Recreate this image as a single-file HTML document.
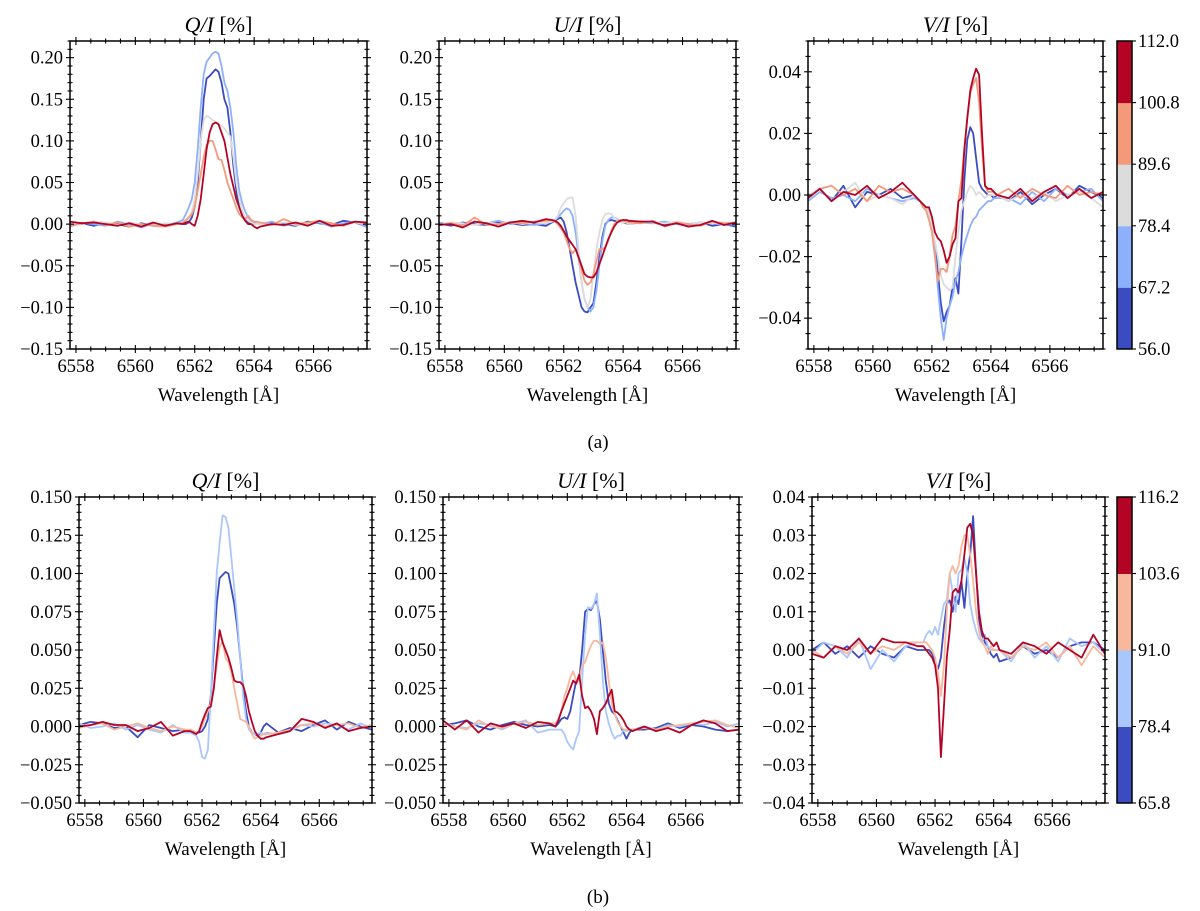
<!DOCTYPE html>
<html><head><meta charset="utf-8"><style>
html,body{margin:0;padding:0;background:#fff;}
svg{display:block;font-family:"Liberation Serif",serif;}
</style></head><body>
<svg id="fig" width="1200" height="911" viewBox="0 0 1200 911" xmlns="http://www.w3.org/2000/svg">
<text x="598" y="448" font-size="19" text-anchor="middle">(a)</text>
<text x="598" y="903" font-size="19" text-anchor="middle">(b)</text>
</svg>
<script>
const wl=[6557.8,6558.2,6558.6,6559.0,6559.4,6559.8,6560.2,6560.6,6561.0,6561.4,
6561.6,6561.7,6561.8,6561.9,6562.0,6562.1,6562.2,6562.3,6562.4,6562.5,6562.6,6562.7,6562.8,6562.9,6563.0,6563.1,6563.2,6563.3,6563.4,6563.5,6563.6,6563.7,6563.8,6563.9,6564.0,6564.1,6564.2,
6564.6,6565.0,6565.4,6565.8,6566.2,6566.6,6567.0,6567.4,6567.8];

const topColors=["#3b4cc0","#8db0fe","#dddcdc","#f49a7b","#b40426"];
const botColors=["#3b4cc0","#aac7fd","#f7b89c","#b40426"];
const topCbarTicks=["56.0","67.2","78.4","89.6","100.8","112.0"];
const botCbarTicks=["65.8","78.4","91.0","103.6","116.2"];

// Top row, Q/I
const tq_db=[0.002,0.001,-0.002,0.001,0.0,-0.003,0.001,-0.002,-0.001,0.001,
0,0,0.002,0.008,0.02,0.05,0.1,0.15,0.175,0.178,0.182,0.186,0.183,0.17,0.15,0.14,0.11,0.07,0.04,0.02,0.01,0.005,0.002,0,0,0,0,
0.001,0.0,-0.002,0.003,0.001,-0.001,0.004,0.002,-0.003];
const tq_lb=[-0.003,0.002,0.0,-0.002,0.003,0.0,-0.004,0.001,-0.002,0.002,
0.005,0.012,0.02,0.03,0.05,0.09,0.14,0.18,0.195,0.2,0.205,0.207,0.205,0.19,0.17,0.16,0.14,0.11,0.07,0.04,0.025,0.015,0.008,0.004,0.002,0,0,
0.003,-0.002,0.001,0.0,0.002,-0.003,0.001,0.003,-0.004];
const tq_gr=[0.001,0.0,0.003,0.002,-0.001,0.002,0.0,-0.002,0.001,0.0,
0,0.003,0.008,0.015,0.03,0.06,0.1,0.125,0.13,0.128,0.125,0.123,0.12,0.118,0.115,0.11,0.105,0.08,0.05,0.03,0.015,0.008,0.004,0.002,0,0,0,
0.0,0.002,-0.001,0.001,0.003,0.0,-0.001,0.002,0.0];
const tq_sa=[-0.002,0.001,0.003,-0.001,0.002,-0.003,0.0,-0.002,-0.003,0.0,
0.002,0.005,0.008,0.012,0.02,0.04,0.06,0.08,0.095,0.1,0.1,0.09,0.078,0.077,0.065,0.05,0.04,0.03,0.02,0.012,0.008,0.006,0.01,0.005,0.003,0.003,0.002,
-0.001,0.006,0.0,0.002,0.004,0.001,-0.002,0.003,0.001];
const tq_rd=[0.003,0.001,0.002,0.0,-0.002,0.001,-0.003,0.002,-0.002,0.001,
0,0.002,0.003,0,-0.002,0.01,0.03,0.06,0.09,0.11,0.12,0.122,0.12,0.11,0.1,0.08,0.06,0.045,0.03,0.02,0.01,0.004,0,0,-0.003,-0.005,-0.003,
0.0,-0.001,0.002,-0.002,0.004,-0.002,-0.001,0.003,0.002];

// Top row, U/I
const tu_db=[0.001,-0.002,0.002,0.0,-0.001,0.002,0.001,-0.001,0.0,-0.002,
0.002,0.004,0.006,0.008,0.003,-0.01,-0.03,-0.05,-0.07,-0.085,-0.1,-0.105,-0.106,-0.1,-0.095,-0.07,-0.04,-0.015,0,0.004,0.005,0.004,0.003,0.003,0.002,0.001,0,
0.003,0.002,-0.001,0.001,0.0,0.002,-0.002,0.0,-0.003];
const tu_lb=[0.002,0.0,-0.001,0.003,0.001,0.004,0.0,0.002,-0.001,0.001,
0.003,0.005,0.008,0.012,0.016,0.019,0.017,0.01,-0.01,-0.04,-0.07,-0.09,-0.1,-0.105,-0.1,-0.08,-0.05,-0.02,-0.002,0.005,0.008,0.008,0.006,0.004,0.003,0.002,0,
0.002,0.001,0.003,0.0,-0.002,0.002,0.001,-0.001,0.0];
const tu_gr=[0.0,0.002,0.001,-0.001,0.002,0.0,0.003,0.0,0.002,0.001,
0.003,0.005,0.01,0.02,0.025,0.03,0.032,0.032,0.01,-0.03,-0.07,-0.09,-0.1,-0.09,-0.06,-0.03,-0.01,0.005,0.012,0.013,0.012,0.008,0.005,0.003,0.002,0.002,0,
0.004,0.002,0.001,0.003,0.0,0.002,0.001,0.002,0.0];
const tu_sa=[-0.001,0.001,-0.002,0.008,-0.001,0.0,0.002,0.001,0.003,0.004,
0.005,0.003,0,-0.005,-0.01,-0.02,-0.03,-0.035,-0.03,-0.04,-0.055,-0.068,-0.073,-0.07,-0.06,-0.045,-0.03,-0.03,-0.028,-0.02,-0.008,0,0.003,0.005,0.004,0.003,0.002,
0.001,0.004,-0.003,0.002,0.0,-0.002,0.003,0.001,0.002];
const tu_rd=[-0.001,0.0,-0.004,0.003,0.001,-0.003,0.002,0.004,0.002,0.006,
0.005,0.004,0.002,-0.002,-0.008,-0.015,-0.02,-0.025,-0.03,-0.04,-0.05,-0.06,-0.063,-0.064,-0.064,-0.058,-0.048,-0.038,-0.028,-0.018,-0.01,-0.003,0.002,0.004,0.005,0.005,0.004,
0.003,0.003,-0.002,0.001,-0.003,-0.001,0.004,-0.001,0.002];

// Top row, V/I
const tv_db=[-0.001,0.002,-0.002,0.003,-0.004,0.001,0.0,0.002,-0.001,0.0,
-0.002,-0.003,-0.004,-0.006,-0.01,-0.016,-0.025,-0.035,-0.041,-0.038,-0.036,-0.03,-0.027,-0.032,-0.015,0.005,0.018,0.022,0.02,0.012,0.004,0.002,0.001,0,0,-0.001,0,
-0.002,0.001,-0.003,0.0,0.002,-0.001,0.003,0.001,-0.001];
const tv_lb=[-0.002,0.001,-0.001,0.0,-0.002,0.002,0.0,-0.001,-0.002,-0.001,
-0.002,-0.003,-0.004,-0.006,-0.01,-0.018,-0.03,-0.04,-0.047,-0.04,-0.036,-0.033,-0.028,-0.025,-0.02,-0.016,-0.013,-0.01,-0.008,-0.007,-0.005,-0.004,-0.003,-0.002,-0.002,-0.001,-0.001,
-0.001,-0.003,0.001,-0.002,0.002,0.0,0.001,0.002,-0.002];
const tv_gr=[0.0,0.002,-0.002,0.001,0.004,-0.002,0.0,-0.001,-0.003,0.0,
-0.002,-0.003,-0.004,-0.006,-0.01,-0.015,-0.02,-0.026,-0.029,-0.03,-0.031,-0.03,-0.02,-0.012,-0.005,-0.002,0.001,0.003,0.002,0,0.001,0,-0.001,0,0,0,0,
-0.002,0.0,-0.001,0.001,-0.002,0.0,0.001,-0.001,-0.004];
const tv_sa=[-0.001,0.002,0.003,0.0,0.002,-0.002,0.003,0.001,0.002,0.0,
-0.002,-0.004,-0.005,-0.008,-0.012,-0.02,-0.028,-0.024,-0.024,-0.025,-0.02,-0.013,-0.01,-0.002,0.005,0.015,0.025,0.033,0.036,0.038,0.03,0.015,0.003,0.001,0.001,0.001,0,
0.002,-0.001,0.002,0.0,-0.001,0.003,0.0,0.001,0.0];
const tv_rd=[-0.001,0.002,-0.002,0.001,0.0,0.003,-0.001,0.001,0.004,0.0,
-0.002,-0.003,-0.004,-0.004,-0.007,-0.012,-0.014,-0.015,-0.018,-0.022,-0.02,-0.016,-0.014,-0.002,-0.001,0.015,0.025,0.034,0.038,0.041,0.039,0.02,0.003,0.002,0.002,0.001,0,
-0.001,0.002,-0.002,0.001,0.003,-0.001,0.002,-0.001,0.001];

// Bottom row, Q/I
const bq_db=[0.001,0.003,0.002,-0.001,0.0,-0.007,0.001,-0.001,-0.003,-0.002,
-0.003,-0.003,-0.004,-0.004,-0.003,0.0,0.005,0.02,0.05,0.08,0.097,0.099,0.101,0.1,0.09,0.08,0.065,0.045,0.025,0.01,0.0,-0.004,-0.005,-0.006,-0.004,0.0,0.002,
-0.004,-0.001,-0.003,0.001,0.004,-0.002,0.003,0.0,-0.002];
const bq_lb=[0.002,-0.001,0.0,0.002,-0.002,0.001,-0.002,-0.004,0.001,-0.004,
-0.004,-0.005,-0.006,-0.01,-0.02,-0.021,-0.015,0.02,0.06,0.1,0.12,0.138,0.137,0.13,0.11,0.09,0.07,0.045,0.02,0.005,-0.002,-0.004,-0.005,-0.005,-0.004,-0.005,-0.004,
-0.005,-0.003,0.001,0.0,0.002,0.001,-0.002,0.002,-0.001];
const bq_sa=[-0.001,0.001,0.002,-0.002,0.0,0.002,-0.001,-0.003,0.0,-0.002,
-0.002,-0.003,-0.004,-0.003,0.0,0.005,0.01,0.015,0.025,0.04,0.052,0.056,0.045,0.042,0.035,0.025,0.015,0.005,0.004,0.003,0.0,-0.005,-0.008,-0.007,-0.006,-0.005,-0.005,
-0.004,-0.002,0.001,0.002,0.0,0.001,0.002,-0.001,0.001];
const bq_rd=[0.0,0.001,0.003,0.001,0.001,-0.003,-0.001,0.003,-0.006,-0.003,
-0.003,-0.004,-0.005,-0.003,0.003,0.008,0.012,0.013,0.025,0.045,0.063,0.055,0.05,0.045,0.038,0.03,0.029,0.029,0.027,0.02,0.01,0.003,-0.003,-0.006,-0.008,-0.008,-0.007,
-0.005,-0.003,0.005,0.003,-0.001,0.002,-0.003,-0.001,0.0];

// Bottom row, U/I
const bu_db=[0.001,0.002,0.004,0.0,-0.002,0.001,0.003,0.001,0.0,0.001,
0.0,0.002,0.005,0.006,0.005,0.01,0.02,0.03,0.03,0.05,0.075,0.077,0.076,0.08,0.082,0.07,0.05,0.03,0.015,0.01,0.008,0.004,0.0,-0.004,-0.008,-0.004,-0.002,
-0.002,-0.001,0.002,-0.001,0.001,0.0,-0.002,-0.003,-0.002];
const bu_lb=[0.003,0.0,-0.001,0.002,0.001,-0.002,0.002,0.004,-0.004,-0.002,
-0.002,-0.002,-0.002,-0.005,-0.01,-0.013,-0.015,-0.008,-0.003,0.03,0.06,0.078,0.077,0.08,0.087,0.06,0.03,0.01,0.002,-0.004,-0.008,-0.006,-0.006,-0.002,-0.003,-0.002,-0.002,
0.0,-0.002,0.001,0.0,0.002,0.001,0.003,0.0,0.002];
const bu_sa=[0.001,0.0,-0.002,0.004,0.0,-0.001,0.002,0.003,0.001,0.002,
0.002,0.005,0.01,0.02,0.025,0.032,0.036,0.03,0.03,0.04,0.042,0.048,0.053,0.056,0.056,0.054,0.055,0.045,0.03,0.015,0.008,0.003,0.0,-0.002,-0.002,-0.002,-0.002,
-0.001,-0.002,0.0,0.001,0.002,0.003,0.004,0.001,-0.001];
const bu_rd=[0.004,-0.002,0.004,-0.004,0.002,0.0,0.002,-0.001,0.003,0.002,
0.0,0.004,0.01,0.015,0.02,0.025,0.03,0.028,0.034,0.02,0.012,0.013,0.01,0.005,-0.005,0.01,0.012,0.015,0.02,0.024,0.01,0.009,0.007,0.004,0.0,-0.002,-0.003,
0.0,-0.003,-0.001,-0.004,0.001,0.004,0.002,-0.003,-0.002];

// Bottom row, V/I
const bv_db=[0.0,0.002,-0.001,0.001,-0.002,0.001,-0.001,-0.002,0.001,0.0,
0.0,0.0,0.0,-0.001,-0.003,-0.005,-0.002,0.006,0.012,0.013,0.01,0.014,0.012,0.018,0.011,0.02,0.025,0.035,0.02,0.008,0.004,0.002,0.001,-0.001,-0.002,-0.001,-0.003,
-0.002,0.001,-0.001,0.0,-0.002,0.001,0.002,0.002,0.0];
const bv_lb=[-0.001,0.002,0.001,-0.002,0.003,-0.005,0.0,-0.003,0.001,0.002,
0.002,0.004,0.005,0.004,0.006,0.004,0.008,0.012,0.013,0.02,0.015,0.01,0.02,0.021,0.024,0.02,0.012,0.008,0.005,0.003,0.002,0.004,0.001,0.0,0.0,0.0,0.0,
-0.003,0.002,-0.002,0.001,-0.003,0.003,0.001,0.002,-0.001];
const bv_sa=[0.0,-0.002,0.001,-0.001,0.002,-0.001,0.001,0.0,0.002,0.002,
0.002,0.002,0.001,0.0,-0.002,-0.006,-0.012,-0.004,0.01,0.02,0.022,0.02,0.022,0.027,0.03,0.03,0.025,0.018,0.01,0.005,0.002,0.001,-0.001,0.001,0.0,0.0,0.0,
-0.002,0.001,0.0,0.002,-0.002,0.001,-0.004,0.001,-0.002];
const bv_rd=[-0.001,-0.002,0.001,0.0,0.003,-0.001,0.003,0.002,0.002,0.001,
0.001,0.0,-0.001,-0.002,-0.004,-0.01,-0.028,-0.015,-0.002,0.005,0.015,0.016,0.015,0.018,0.025,0.032,0.033,0.03,0.02,0.01,0.005,0.003,0.003,0.002,0.001,0.002,0.0,
-0.001,0.002,0.001,-0.001,0.002,0.0,-0.002,0.004,-0.001];

const NS="http://www.w3.org/2000/svg";
const svg=document.getElementById('fig');
const XLO=6557.8, XHI=6567.8;
function el(tag,attrs,parent){const e=document.createElementNS(NS,tag);for(const k in attrs)e.setAttribute(k,attrs[k]);(parent||svg).appendChild(e);return e;}
function fmt(v,d){const s=Math.abs(v).toFixed(d);return (v<-1e-9?"\u2212":"")+s;}

function panel(name,x0,x1,y0,y1,ylo,yhi,ymaj,ymin,dec,title,letter,series,colors){
  const g=el('g',{});
  
  
  const sx=v=>x0+(v-XLO)/(XHI-XLO)*(x1-x0);
  const sy=v=>y1-(v-ylo)/(yhi-ylo)*(y1-y0);
  const cp='clip-'+name;
  const defs=el('defs',{},g);
  const c=el('clipPath',{id:cp},defs);
  el('rect',{x:x0,y:y0,width:x1-x0,height:y1-y0},c);
  const lg=el('g',{'clip-path':'url(#'+cp+')'},g);
  series.forEach((s,i)=>{
    const d=s.map((v,j)=>(j?'L':'M')+sx(wl[j]).toFixed(1)+' '+sy(v).toFixed(1)).join(' ');
    const p=el('path',{d:d,fill:'none',stroke:colors[i],'stroke-width':1.8,'stroke-linejoin':'round'},lg);
    
    
  });
  const frame=el('rect',{x:x0,y:y0,width:x1-x0,height:y1-y0,fill:'none',stroke:'#000','stroke-width':1.5},g);
  
  
  const tk=el('g',{stroke:'#000','stroke-width':1.1},g);
  for(let w=6558;w<=6567.6;w+=0.5){
    const maj=Math.abs(w/2-Math.round(w/2))<1e-6, L=maj?4:2.5, x=sx(w);
    el('line',{x1:x,x2:x,y1:y1-L,y2:y1+L},tk);
    el('line',{x1:x,x2:x,y1:y0-L,y2:y0+L},tk);
    if(maj){const t=el('text',{x:x,y:y1+23,'font-size':18.5,'text-anchor':'middle'},g);t.textContent=String(w);
      }
  }
  const nmin=Math.round((yhi-ylo)/ymin);
  for(let k=0;k<=nmin;k++){
    const v=ylo+k*ymin; if(v>yhi+1e-9)break;
    const r=v/ymaj, maj=Math.abs(r-Math.round(r))<1e-6, L=maj?4:2.5, y=sy(v);
    el('line',{x1:x0-L,x2:x0+L,y1:y,y2:y},tk);
    el('line',{x1:x1-L,x2:x1+L,y1:y,y2:y},tk);
    if(maj){const t=el('text',{x:x0-7,y:y+6,'font-size':18.5,'text-anchor':'end'},g);t.textContent=fmt(v,dec);
      }
  }
  const tt=el('text',{x:(x0+x1)/2,y:y0-9,'font-size':22,'text-anchor':'middle'},g);
  
  const a=el('tspan',{'font-style':'italic'},tt);a.textContent=letter+'/I';
  const b=el('tspan',{},tt);b.textContent=' [%]';
  const xl=el('text',{x:(x0+x1)/2,y:y1+52,'font-size':19,'text-anchor':'middle'},g);
  xl.textContent='Wavelength [Å]';
  
}

function cbar(name,x0,x1,y0,y1,colors,labels){
  const g=el('g',{});
  
  
  const n=colors.length,h=(y1-y0)/n;
  colors.forEach((c,i)=>{const r=el('rect',{x:x0,y:y1-(i+1)*h,width:x1-x0,height:h+0.5,fill:c},g);
    });
  el('rect',{x:x0,y:y0,width:x1-x0,height:y1-y0,fill:'none',stroke:'#000','stroke-width':1.5},g);
  labels.forEach((l,i)=>{const y=y1-i*h;
    el('line',{x1:x1,x2:x1+4,y1:y,y2:y,stroke:'#000','stroke-width':1.1},g);
    const t=el('text',{x:x1+6,y:y+6,'font-size':18.5},g);t.textContent=l;
    });
}

panel('top-q-panel',70,367,41,349,-0.15,0.22,0.05,0.01,2,'','Q',[tq_db,tq_lb,tq_gr,tq_sa,tq_rd],topColors);
panel('top-u-panel',439,736,41,349,-0.15,0.22,0.05,0.01,2,'','U',[tu_db,tu_lb,tu_gr,tu_sa,tu_rd],topColors);
panel('top-v-panel',808,1103,41,349,-0.05,0.05,0.02,0.005,2,'','V',[tv_db,tv_lb,tv_gr,tv_sa,tv_rd],topColors);
cbar('top-colorbar',1117,1132,41,349,topColors,topCbarTicks);
panel('bottom-q-panel',79,372,497,803,-0.05,0.15,0.025,0.005,3,'','Q',[bq_db,bq_lb,bq_sa,bq_rd],botColors);
panel('bottom-u-panel',443,739,497,803,-0.05,0.15,0.025,0.005,3,'','U',[bu_db,bu_lb,bu_sa,bu_rd],botColors);
panel('bottom-v-panel',812,1105,497,803,-0.04,0.04,0.01,0.0025,2,'','V',[bv_db,bv_lb,bv_sa,bv_rd],botColors);
cbar('bottom-colorbar',1117,1132,497,803,botColors,botCbarTicks);
</script>
</body></html>
